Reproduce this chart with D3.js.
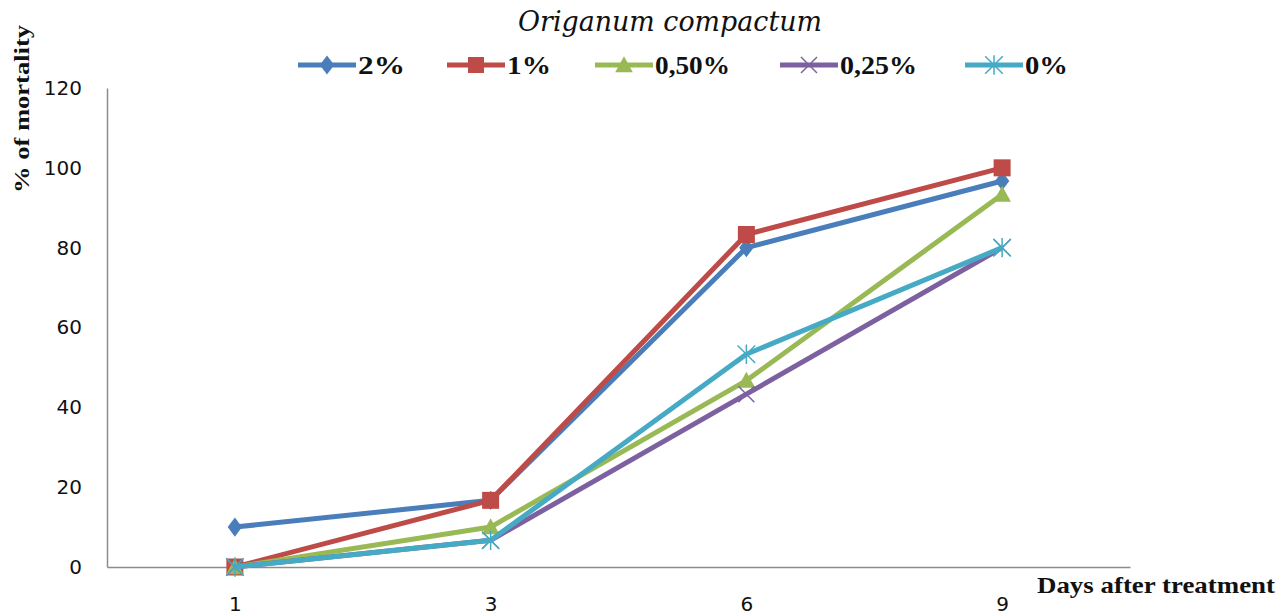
<!DOCTYPE html>
<html><head><meta charset="utf-8">
<script src="https://cdn.jsdelivr.net/npm/d3@7"></script>
<style>body{margin:0;background:#fff}</style>
</head><body>
<svg id="c" width="1288" height="616"></svg>
<script>
const categories = ["1","3","6","9"];
const seriesNames = ["2%","1%","0,50%","0,25%","0%"];
const s2 = [10, 16.7, 80, 96.7];
const s1 = [0, 16.7, 83.3, 100];
const s050 = [0, 10, 46.7, 93.3];
const s025 = [0, 6.7, 43.3, 80];
const s0 = [0, 6.7, 53.3, 80];
const yTicks = [0,20,40,60,80,100,120];
const colors = ["#4A7EBB","#BE4B48","#98B954","#7D60A0","#46AAC5"];
const markers = ["diamond","square","triangle","x","star"];
const seriesValues = [s2, s1, s050, s025, s0];

const serif = "'Liberation Serif', 'Times New Roman', serif";
const svg = d3.select("#c");
const x = d3.scalePoint().domain(categories).range([107,1130]).padding(0.5);
const y = d3.scaleLinear().domain([0,120]).range([567,88]);

// axes
const yAxis = svg.append("g").attr("transform","translate(107,0)")
  .call(d3.axisLeft(y).tickValues(yTicks).tickSize(0).tickPadding(25));
const xAxis = svg.append("g").attr("transform","translate(0,567)")
  .call(d3.axisBottom(x).tickSize(0).tickPadding(30));
[yAxis,xAxis].forEach(a=>{
  a.select(".domain").attr("stroke","#8c8c8c").attr("stroke-width",1.5);
  a.selectAll("text").attr("font-family","'DejaVu Sans', Verdana, sans-serif").attr("font-size",20).attr("fill","#111");
});

function drawMarker(g, type, cx, cy, color, size){
  const s = size;
  if(type==="diamond"){
    g.append("path").attr("d",`M${cx},${cy-s*0.6}L${cx+s*0.45},${cy}L${cx},${cy+s*0.6}L${cx-s*0.45},${cy}Z`).attr("fill",color);
  } else if(type==="square"){
    g.append("rect").attr("x",cx-s/2).attr("y",cy-s/2).attr("width",s).attr("height",s).attr("fill",color);
  } else if(type==="triangle"){
    g.append("path").attr("d",`M${cx},${cy-s*0.55}L${cx+s*0.55},${cy+s*0.45}L${cx-s*0.55},${cy+s*0.45}Z`).attr("fill",color);
  } else if(type==="x"){
    const r=s*0.5;
    g.append("path").attr("d",`M${cx-r},${cy-r}L${cx+r},${cy+r}M${cx-r},${cy+r}L${cx+r},${cy-r}`).attr("stroke",color).attr("stroke-width",1.5);
  } else if(type==="star"){
    const r=s*0.55;
    g.append("path").attr("d",`M${cx-r},${cy-r}L${cx+r},${cy+r}M${cx-r},${cy+r}L${cx+r},${cy-r}M${cx},${cy-r*1.1}L${cx},${cy+r*1.1}`).attr("stroke",color).attr("stroke-width",1.5);
  }
}

const line = d3.line().x((d,i)=>x(categories[i])).y(d=>y(d));
seriesValues.forEach((vals,si)=>{
  const g = svg.append("g");
  g.append("path").datum(vals).attr("d",line).attr("fill","none")
    .attr("stroke",colors[si]).attr("stroke-width",5).attr("stroke-linejoin","round");
  vals.forEach((v,i)=>drawMarker(g, markers[si], x(categories[i]), y(v), colors[si], si===1?17:16));
});

// title
svg.append("text").attr("x",670).attr("y",31).attr("text-anchor","middle")
  .attr("font-family","'DejaVu Serif', serif").attr("font-style","italic")
  .attr("font-size",27).attr("fill","#111")
  .attr("textLength",304).attr("lengthAdjust","spacingAndGlyphs").text("Origanum compactum");

// legend
const legX = [298,447,595,780,965];
const legW = [47,44,75,77,43];
seriesNames.forEach((n,i)=>{
  const g = svg.append("g");
  g.append("line").attr("x1",legX[i]).attr("x2",legX[i]+58).attr("y1",65).attr("y2",65)
    .attr("stroke",colors[i]).attr("stroke-width",5);
  drawMarker(g, markers[i], legX[i]+29, 65, colors[i], 16);
  g.append("text").attr("x",legX[i]+60).attr("y",74)
    .attr("font-family",serif).attr("font-weight","bold")
    .attr("font-size",25).attr("fill","#111")
    .attr("textLength",legW[i]).attr("lengthAdjust","spacingAndGlyphs").text(n);
});

// y title
svg.append("text").attr("transform","translate(29,109) rotate(-90)").attr("text-anchor","middle")
  .attr("font-family",serif).attr("font-weight","bold")
  .attr("font-size",21).attr("fill","#111")
  .attr("textLength",168).attr("lengthAdjust","spacingAndGlyphs").text("% of mortality");
// x title
svg.append("text").attr("x",1037).attr("y",593)
  .attr("font-family",serif).attr("font-weight","bold")
  .attr("font-size",23).attr("fill","#111")
  .attr("textLength",238).attr("lengthAdjust","spacingAndGlyphs").text("Days after treatment");
</script>
</body></html>
